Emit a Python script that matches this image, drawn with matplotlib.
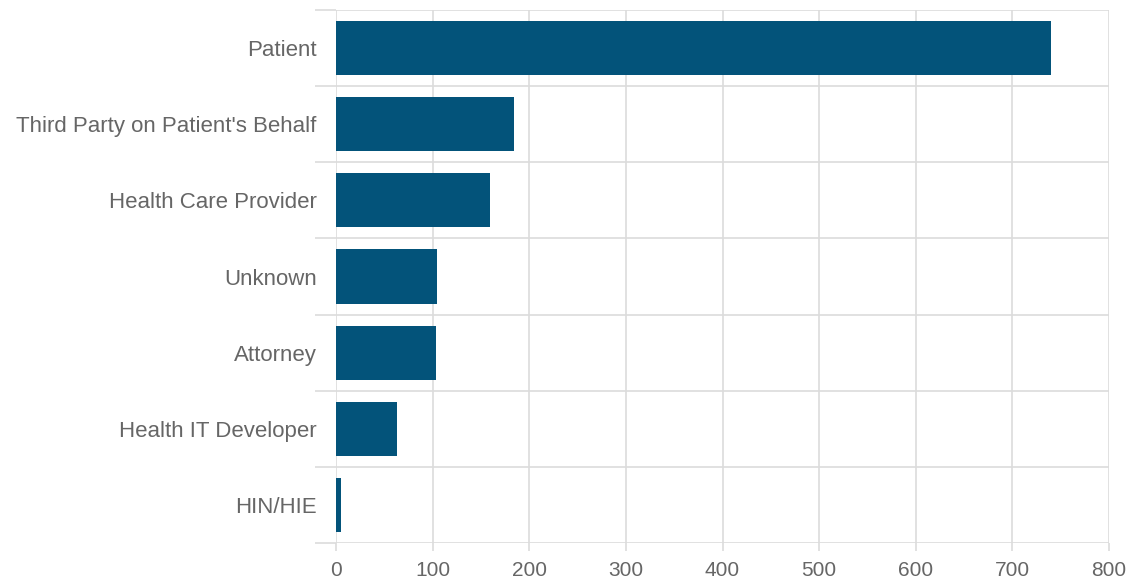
import numpy as np
from matplotlib import pyplot as plt

# requester categories, top to bottom
categories = ['Patient', "Third Party on Patient's Behalf", 'Health Care Provider',
              'Unknown', 'Attorney', 'Health IT Developer', 'HIN/HIE']
counts = [740, 184, 159, 105, 103, 63, 5]
x_ticks = [0, 100, 200, 300, 400, 500, 600, 700, 800]

bar_color = '#03537a'
grid_color = '#dcdcdc'
text_color = '#666666'

plt.rcParams['font.family'] = ['Liberation Sans', 'DejaVu Sans']

fig = plt.figure(figsize=(11.32, 5.82), dpi=100)
ax = fig.add_axes([336/1132, 1 - 543/582, (1109 - 336)/1132, (543 - 10)/582])

y = np.arange(len(categories))
ax.barh(y, counts, height=0.71, color=bar_color, zorder=2)

ax.set_xlim(0, 800)
ax.set_ylim(len(categories) - 0.5, -0.5)

# x axis
ax.set_xticks(x_ticks)
ax.tick_params(axis='x', length=6, width=1.2, color=grid_color, pad=7,
               labelsize=15, labelcolor=text_color)

# y axis: gridlines/ticks at category boundaries, labels at centers
ax.set_yticks(np.arange(len(categories) + 1) - 0.5)
ax.set_yticklabels([])
ax.tick_params(axis='y', which='major', length=15, width=1.2, color=grid_color)
ax.set_yticks(y, minor=True)
ax.set_yticklabels(categories, minor=True)
ax.tick_params(axis='y', which='minor', length=0, pad=14, labelsize=16,
               labelcolor=text_color)

ax.grid(True, which='major', color=grid_color, linewidth=1.2, zorder=0)
ax.set_axisbelow(True)
for s in ax.spines.values():
    s.set_visible(False)

fig.savefig('out.png', dpi=100)
